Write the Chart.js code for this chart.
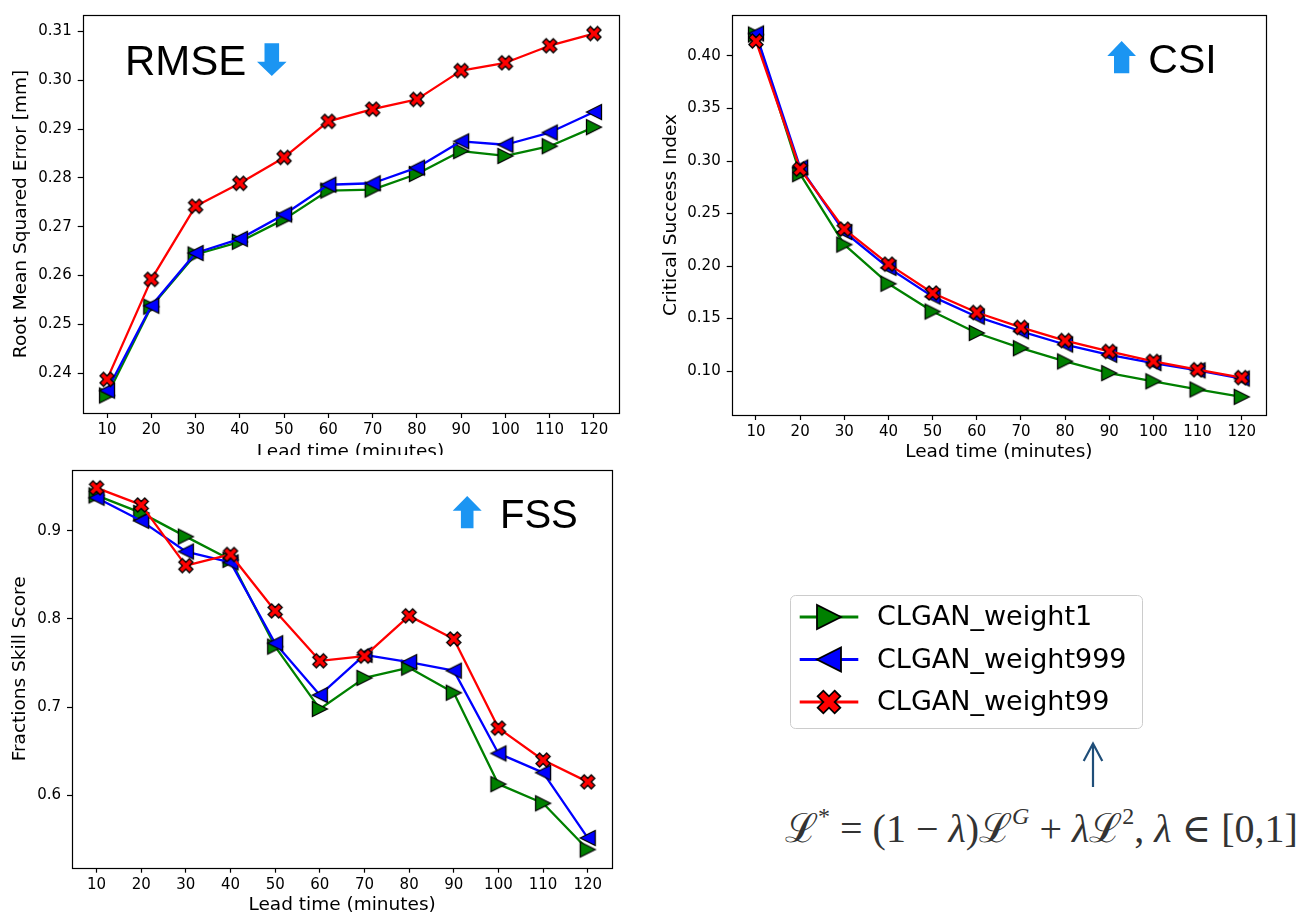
<!DOCTYPE html>
<html>
<head>
<meta charset="utf-8">
<script src="https://cdn.jsdelivr.net/npm/chart.js@4.4.0/dist/chart.umd.min.js"></script>
<style>
  html, body { margin: 0; padding: 0; background: #fff; width: 1301px; height: 913px; overflow: hidden; }
  canvas { position: absolute; }
  #rmse { left: 0; top: 0; }
  #csi { left: 640px; top: 0; }
  #fss { left: 0; top: 455px; }
  #legend { left: 760px; top: 580px; }
  #pointer { position: absolute; left: 1080px; top: 738px; }
  #formula {
    position: absolute; left: 785px; top: 799px; white-space: nowrap;
    font-family: "Liberation Serif", "DejaVu Serif", serif; font-size: 40px; color: #333;
  }
  #formula sup { font-size: 0.6em; vertical-align: 0.75em; line-height: 0; }
</style>
</head>
<body>
<canvas id="rmse" width="640" height="470"></canvas>
<canvas id="csi" width="661" height="470"></canvas>
<canvas id="fss" width="640" height="470"></canvas>
<canvas id="legend" width="541" height="170"></canvas>
<svg id="pointer" width="26" height="52">
  <path d="M13 49 L13 6 M3.7 23 L13 5.5 L22.3 23" fill="none" stroke="#1f4e79" stroke-width="2.2"/>
</svg>
<div id="formula">ℒ<sup>*</sup> = (1 − <i>λ</i>)ℒ<sup><i>G</i></sup> + <i>λ</i>ℒ<sup>2</sup>, <i>λ</i> ∈ [0,1]</div>
<script>
// x 축: 예측 리드타임 (분)
const leadTimes = [10, 20, 30, 40, 50, 60, 70, 80, 90, 100, 110, 120];
const seriesNames = ["CLGAN_weight1", "CLGAN_weight999", "CLGAN_weight99"];

// RMSE [mm]
const rmseWeight1 = [0.2354, 0.2536, 0.2643, 0.2669, 0.2715, 0.2774, 0.2776, 0.2808, 0.2855, 0.2845, 0.2865, 0.2904];
const rmseWeight999 = [0.2364, 0.2538, 0.2646, 0.2675, 0.2725, 0.2786, 0.2789, 0.2821, 0.2875, 0.2868, 0.2893, 0.2935];
const rmseWeight99 = [0.2387, 0.2592, 0.2742, 0.2789, 0.2842, 0.2916, 0.2941, 0.2961, 0.3020, 0.3036, 0.3071, 0.3096];

// CSI
const csiWeight1 = [0.4204, 0.2875, 0.2204, 0.1832, 0.1567, 0.1363, 0.1218, 0.1092, 0.0981, 0.0903, 0.0825, 0.0755];
const csiWeight999 = [0.4214, 0.2938, 0.2324, 0.1983, 0.1709, 0.1518, 0.1379, 0.1253, 0.1155, 0.1076, 0.1007, 0.0929];
const csiWeight99 = [0.4142, 0.2923, 0.2352, 0.2018, 0.1744, 0.1558, 0.1416, 0.1291, 0.1187, 0.1092, 0.1013, 0.0938];

// FSS
const fssWeight1 = [0.9400, 0.9202, 0.8933, 0.8670, 0.7687, 0.6980, 0.7332, 0.7448, 0.7164, 0.6128, 0.5911, 0.5387];
const fssWeight999 = [0.9374, 0.9112, 0.8764, 0.8641, 0.7725, 0.7137, 0.7594, 0.7511, 0.7414, 0.6476, 0.6259, 0.5518];
const fssWeight99 = [0.9486, 0.9292, 0.8604, 0.8731, 0.8091, 0.7526, 0.7579, 0.8035, 0.7773, 0.6763, 0.6401, 0.6154];

// y 축 눈금
const rmseTicks = [0.24, 0.25, 0.26, 0.27, 0.28, 0.29, 0.30, 0.31];
const csiTicks = [0.10, 0.15, 0.20, 0.25, 0.30, 0.35, 0.40];
const fssTicks = [0.6, 0.7, 0.8, 0.9];

const seriesStyle = [
  { color: "#008000", marker: "right", order: 3 },
  { color: "#0000ff", marker: "left", order: 2 },
  { color: "#ff0000", marker: "x", order: 1 },
];
const arrowBlue = "#1b95f2";
const tickFont = { family: "'DejaVu Sans', sans-serif", size: 15 };
const labelFont = { family: "'DejaVu Sans', sans-serif", size: 18.5 };

// matplotlib 마커 모양 (>, <, X)
function markerPath(ctx, shape, cx, cy, ms) {
  const h = ms / 2;
  ctx.beginPath();
  if (shape === "right") {
    ctx.moveTo(cx + h, cy);
    ctx.lineTo(cx - h, cy - h);
    ctx.lineTo(cx - h, cy + h);
  } else if (shape === "left") {
    ctx.moveTo(cx - h, cy);
    ctx.lineTo(cx + h, cy - h);
    ctx.lineTo(cx + h, cy + h);
  } else {
    const pts = [[-1, -3], [1, -3], [1, -1], [3, -1], [3, 1], [1, 1], [1, 3], [-1, 3], [-1, 1], [-3, 1], [-3, -1], [-1, -1]];
    const c = Math.SQRT1_2;
    pts.forEach(([px, py], i) => {
      const x = (px / 6) * ms;
      const y = (py / 6) * ms;
      const rx = (x - y) * c;
      const ry = (x + y) * c;
      if (i === 0) ctx.moveTo(cx + rx, cy + ry);
      else ctx.lineTo(cx + rx, cy + ry);
    });
  }
  ctx.closePath();
}

function drawMarker(ctx, shape, cx, cy, ms, color, lw) {
  markerPath(ctx, shape, cx, cy, ms);
  ctx.fillStyle = color;
  ctx.fill();
  ctx.lineWidth = lw;
  ctx.strokeStyle = "#000";
  ctx.lineJoin = "miter";
  ctx.stroke();
}

function markerImage(shape, color, ms, lw) {
  const s = Math.ceil(ms + lw * 2 + 4);
  const c = document.createElement("canvas");
  c.width = s;
  c.height = s;
  drawMarker(c.getContext("2d"), shape, s / 2, s / 2, ms, color, lw);
  return c;
}

// 흰 배경 (아래 차트의 잘린 부분 가리기)
const whiteBg = {
  id: "whiteBg",
  beforeDraw(chart) {
    const ctx = chart.ctx;
    ctx.save();
    ctx.fillStyle = "#fff";
    ctx.fillRect(0, 0, chart.width, chart.height);
    ctx.restore();
  },
};

// 사방 테두리
const framePlugin = {
  id: "frame",
  afterDraw(chart) {
    const { left, top, right, bottom } = chart.chartArea;
    const ctx = chart.ctx;
    ctx.save();
    ctx.strokeStyle = "#000";
    ctx.lineWidth = 1.2;
    ctx.strokeRect(Math.round(left) + 0.5, Math.round(top) + 0.5, Math.round(right - left), Math.round(bottom - top));
    ctx.restore();
  },
};

// 지표 이름 + 화살표
const badgePlugin = {
  id: "badge",
  afterDraw(chart, args, o) {
    if (!o || !o.text) return;
    const ctx = chart.ctx;
    ctx.save();
    ctx.fillStyle = "#000";
    ctx.font = o.size + "px 'Liberation Sans', Arial, sans-serif";
    ctx.textBaseline = "alphabetic";
    ctx.fillText(o.text, o.textX, o.baseline);
    const a = o.arrow;
    const mid = (a.x0 + a.x1) / 2;
    const sw = a.shaft / 2;
    ctx.fillStyle = arrowBlue;
    ctx.beginPath();
    if (a.dir === "down") {
      ctx.moveTo(mid - sw, a.y0);
      ctx.lineTo(mid + sw, a.y0);
      ctx.lineTo(mid + sw, a.yHead);
      ctx.lineTo(a.x1, a.yHead);
      ctx.lineTo(mid, a.y1);
      ctx.lineTo(a.x0, a.yHead);
      ctx.lineTo(mid - sw, a.yHead);
    } else {
      ctx.moveTo(mid, a.y0);
      ctx.lineTo(a.x1, a.yHead);
      ctx.lineTo(mid + sw, a.yHead);
      ctx.lineTo(mid + sw, a.y1);
      ctx.lineTo(mid - sw, a.y1);
      ctx.lineTo(mid - sw, a.yHead);
      ctx.lineTo(a.x0, a.yHead);
    }
    ctx.closePath();
    ctx.fill();
    ctx.restore();
  },
};

function makeChart(id, values, yTicks, yMin, yMax, digits, yTitle, g, badge) {
  const datasets = values.map((vals, i) => ({
    label: seriesNames[i],
    data: vals.map((v, j) => ({ x: leadTimes[j], y: v })),
    borderColor: seriesStyle[i].color,
    backgroundColor: seriesStyle[i].color,
    borderWidth: 2.3,
    borderJoinStyle: "round",
    pointStyle: markerImage(seriesStyle[i].marker, seriesStyle[i].color, 15, 1.3),
    pointRadius: 7,
    tension: 0,
    order: seriesStyle[i].order,
  }));

  return new Chart(document.getElementById(id), {
    type: "line",
    data: { datasets },
    options: {
      responsive: false,
      animation: false,
      devicePixelRatio: 1,
      layout: { padding: { left: 0, top: g.top, right: g.right, bottom: 0 } },
      scales: {
        x: {
          type: "linear",
          min: 4.5,
          max: 125.5,
          afterBuildTicks: (s) => { s.ticks = leadTimes.map((v) => ({ value: v })); },
          afterFit: (s) => { s.height = g.xHeight; },
          ticks: { autoSkip: false, maxRotation: 0, padding: 3, color: "#000", font: tickFont, callback: (v) => String(v) },
          grid: { drawOnChartArea: false, tickLength: 5, tickColor: "#000", tickWidth: 1.2 },
          border: { display: false },
          title: { display: true, text: "Lead time (minutes)", color: "#000", font: labelFont, padding: { top: 0, bottom: g.xTitlePad } },
        },
        y: {
          min: yMin,
          max: yMax,
          afterBuildTicks: (s) => { s.ticks = yTicks.map((v) => ({ value: v })); },
          afterFit: (s) => { s.width = g.yWidth; },
          ticks: { padding: 6, color: "#000", font: tickFont, callback: (v) => v.toFixed(digits) },
          grid: { drawOnChartArea: false, tickLength: 5, tickColor: "#000", tickWidth: 1.2 },
          border: { display: false },
          title: { display: true, text: yTitle, color: "#000", font: labelFont, padding: { top: g.yTitlePad, bottom: 0 } },
        },
      },
      plugins: {
        legend: { display: false },
        tooltip: { enabled: false },
        badge,
      },
    },
    plugins: [whiteBg, framePlugin, badgePlugin],
  });
}

makeChart("rmse", [rmseWeight1, rmseWeight999, rmseWeight99], rmseTicks, 0.2318, 0.3134, 2,
  "Root Mean Squared Error [mm]",
  { top: 10, right: 21.7, yWidth: 82.7, xHeight: 57, xTitlePad: 6.5, yTitlePad: 10 },
  { text: "RMSE", textX: 125, baseline: 75, size: 42,
    arrow: { dir: "down", x0: 257, x1: 286.6, shaft: 14.6, y0: 43.3, yHead: 61.7, y1: 76 } });

makeChart("csi", [csiWeight1, csiWeight999, csiWeight99], csiTicks, 0.0582, 0.4390, 2,
  "Critical Success Index",
  { top: 12, right: 35, yWidth: 91.7, xHeight: 55, xTitlePad: 7.2, yTitlePad: 20.4 },
  { text: "CSI", textX: 508.3, baseline: 72.7, size: 41,
    arrow: { dir: "up", x0: 467.3, x1: 496, shaft: 15.3, y0: 41, yHead: 56, y1: 73.3 } });

makeChart("fss", [fssWeight1, fssWeight999, fssWeight99], fssTicks, 0.5181, 0.9688, 1,
  "Fractions Skill Score",
  { top: 11, right: 27.7, yWidth: 72, xHeight: 57.3, xTitlePad: 8.9, yTitlePad: 9.5 },
  { text: "FSS", textX: 500, baseline: 73.3, size: 40,
    arrow: { dir: "up", x0: 452.7, x1: 481.7, shaft: 12.6, y0: 41, yHead: 55.7, y1: 73.3 } });

// 범례 (matplotlib 스타일: 선 + 마커)
const legendPlugin = {
  id: "mplLegend",
  afterDraw(chart) {
    const ctx = chart.ctx;
    ctx.save();
    ctx.beginPath();
    ctx.roundRect(30.5, 15.5, 352, 133, 5);
    ctx.fillStyle = "rgba(255,255,255,0.8)";
    ctx.fill();
    ctx.strokeStyle = "#cccccc";
    ctx.lineWidth = 1;
    ctx.stroke();
    chart.data.datasets.forEach((ds, i) => {
      const y = 37 + i * 42.5;
      ctx.beginPath();
      ctx.moveTo(39.7, y);
      ctx.lineTo(98.3, y);
      ctx.strokeStyle = ds.borderColor;
      ctx.lineWidth = 3.2;
      ctx.stroke();
      drawMarker(ctx, seriesStyle[i].marker, 69, y, 24, ds.borderColor, 1.8);
      ctx.fillStyle = "#000";
      ctx.font = "27px 'DejaVu Sans', sans-serif";
      ctx.textBaseline = "middle";
      ctx.fillText(ds.label, 117, y + 1);
    });
    ctx.restore();
  },
};

new Chart(document.getElementById("legend"), {
  type: "line",
  data: {
    datasets: seriesNames.map((name, i) => ({ label: name, data: [], borderColor: seriesStyle[i].color })),
  },
  options: {
    responsive: false,
    animation: false,
    devicePixelRatio: 1,
    scales: { x: { display: false }, y: { display: false } },
    plugins: { legend: { display: false }, tooltip: { enabled: false } },
  },
  plugins: [legendPlugin],
});
</script>
</body>
</html>
